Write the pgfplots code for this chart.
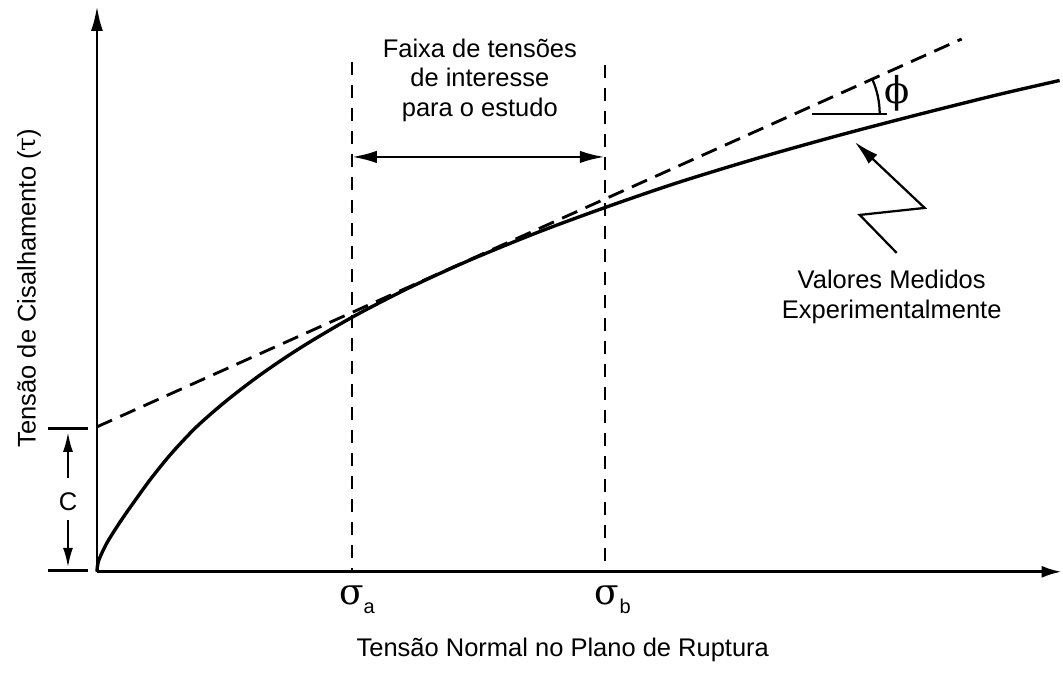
\documentclass[border=0pt]{standalone}
\usepackage{fontspec}
\setmainfont{Liberation Sans}
\newfontfamily\greek{DejaVu Serif}
\usepackage{pgfplots}
\pgfplotsset{compat=1.18}
\usetikzlibrary{arrows.meta}

\begin{document}
\fontsize{10.2}{11.8}\selectfont
\begin{tikzpicture}
\begin{axis}[
  x=0.4pt, y=0.4pt, y dir=reverse,
  xmin=0, xmax=1063, ymin=0, ymax=673,
  hide axis, clip=false,
]
\path (axis cs:0,0) rectangle (axis cs:1063,673);

% measured values (solid curve)
\addplot[black, line width=1.35pt, smooth] coordinates {
(97,572) (97.5,566) (99,560) (102,553) (107,543) (115,530) (125,515)
(137,498) (152,477.5) (172,453) (197,426.6) (227,400.5) (262,373.8)
(302,347) (352,317.5) (407,289) (467,261.5) (537,232.8) (605,207.7)
(677,183) (757,158.5) (837,136) (917,115) (997,95) (1060,80.5)
};
% tangent line
\addplot[black, line width=1.15pt, dash pattern=on 6.6pt off 3.6pt] coordinates {(97,427) (962,39)};
% sigma_a and sigma_b
\addplot[black, line width=0.9pt, dash pattern=on 5.4pt off 3.8pt] coordinates {(352,62) (352,572)};
\addplot[black, line width=0.9pt, dash pattern=on 5.4pt off 3.8pt] coordinates {(605,65) (605,572)};

% axes
\draw[line width=1.1pt, -{Latex[length=10pt,width=4.8pt]}] (axis cs:97,572) -- (axis cs:97,6);
\draw[line width=1.1pt, -{Latex[length=8pt,width=4.8pt]}] (axis cs:97,572) -- (axis cs:1062,572);

% range of interest
\draw[line width=1.1pt, {Latex[length=10pt,width=5pt]}-{Latex[length=10pt,width=5pt]}] (axis cs:352,157) -- (axis cs:605,157);
\node[align=center] at (axis cs:480,80) {Faixa de tensões\\de interesse\\para o estudo};

% cohesion c
\draw[line width=1.1pt] (axis cs:48,429) -- (axis cs:88,429);
\draw[line width=1.1pt] (axis cs:48,571) -- (axis cs:88,571);
\draw[line width=1pt, -{Latex[length=8pt,width=4pt]}] (axis cs:68,478) -- (axis cs:68,432);
\draw[line width=1pt, -{Latex[length=8pt,width=4pt]}] (axis cs:68,520) -- (axis cs:68,568);
\node at (axis cs:68,502) {C};

% friction angle
\draw[line width=0.9pt] (axis cs:812,114) -- (axis cs:887,114);
\draw[line width=0.9pt] (axis cs:880,114) arc[start angle=0, end angle=24.2, radius=34pt];
\node at (axis cs:897,93) {\greek\fontsize{14.8}{15}\selectfont ϕ};

% measured values label
\draw[line width=0.9pt, -{Latex[length=10pt,width=5pt]}] (axis cs:897,253) -- (axis cs:860,215) -- (axis cs:925,208) -- (axis cs:855,142);
\node[align=center] at (axis cs:892,297) {Valores Medidos\\Experimentalmente};

% sigma labels
\node at (axis cs:357,600) {{\greek\fontsize{14.4}{14}\selectfont σ}\raisebox{-3.6pt}{\fontsize{8}{8}\selectfont a}};
\node at (axis cs:613,600) {{\greek\fontsize{14.4}{14}\selectfont σ}\raisebox{-3.6pt}{\fontsize{8}{8}\selectfont b}};

% axis titles
\node at (axis cs:563,650) {Tensão Normal no Plano de Ruptura};
\node[rotate=90] at (axis cs:29,288) {Tensão de Cisalhamento ({\greek τ})};
\end{axis}
\end{tikzpicture}
\end{document}
